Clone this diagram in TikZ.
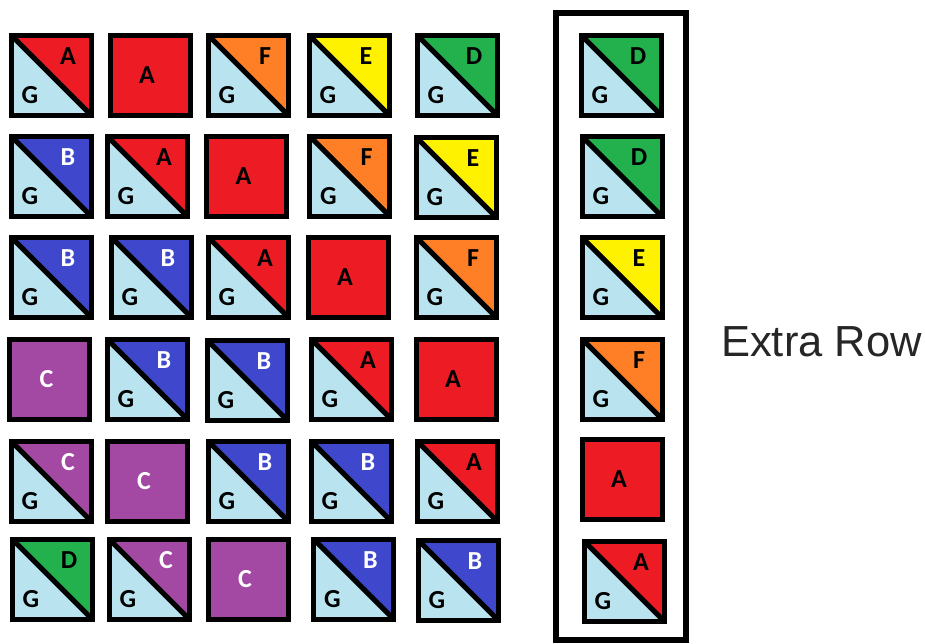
\documentclass[tikz,border=0pt]{standalone}
\usepackage{fontspec}
\newfontfamily\tilefont{Carlito}
\newfontfamily\notefont{Liberation Sans}
\usetikzlibrary{positioning}
\definecolor{redA}{HTML}{ED1C24}
\definecolor{blueB}{HTML}{3F48CC}
\definecolor{purpleC}{HTML}{A349A4}
\definecolor{greenD}{HTML}{22B14C}
\definecolor{yellowE}{HTML}{FFF200}
\definecolor{orangeF}{HTML}{FF7F27}
\definecolor{lightG}{HTML}{B9E4EF}
\definecolor{notegray}{HTML}{262626}
\tikzset{
  tile/.style={draw=black, line width=5pt, minimum size=80pt, inner sep=0pt, outer sep=0pt, fill=#1},
  half/.style={tile=lightG, path picture={
      \fill[#1] (path picture bounding box.north west) -- (path picture bounding box.north east)
        -- (path picture bounding box.south east) -- cycle;
      \draw[line width=5pt] (path picture bounding box.north west) -- (path picture bounding box.south east);}},
  letter/.style={font=\tilefont\bfseries\fontsize{26}{30}\selectfont, inner sep=0pt}
}

\begin{document}
\begin{tikzpicture}[x=1pt, y=-1pt]
\useasboundingbox (0,0) rectangle (925,643);
% split tiles: name/x/y/colour/letter/letter colour
\foreach \n/\x/\y/\c/\l/\t in {r1c1/51/75/redA/A/black, r1c3/248/75/orangeF/F/black,
  r1c4/349/75/yellowE/E/black, r1c5/457/75/greenD/D/black,
  r2c1/51/176/blueB/B/white, r2c2/147/176/redA/A/black, r2c4/349.5/176/orangeF/F/black,
  r2c5/456/177/yellowE/E/black,
  r3c1/51/277/blueB/B/white, r3c2/151/277/blueB/B/white, r3c3/248/277/redA/A/black,
  r3c5/456/277/orangeF/F/black,
  r4c2/147/379/blueB/B/white, r4c3/247/380/blueB/B/white, r4c4/351/379/redA/A/black,
  r5c1/51/481/purpleC/C/white, r5c3/248/481/blueB/B/white, r5c4/351/481/blueB/B/white,
  r5c5/457/481/redA/A/black,
  r6c1/52/579/greenD/D/black, r6c2/149/579/purpleC/C/white, r6c4/353.5/579/blueB/B/white,
  r6c5/458/580/blueB/B/white,
  e1/621/75/greenD/D/black, e2/622/176.5/greenD/D/black, e3/622/277.5/yellowE/E/black,
  e4/622/379/orangeF/F/black, e6/624/581/redA/A/black} {
  \node[half=\c] (\n) at (\x,\y) {};
  \node[letter, text=\t, xshift=17pt, yshift=19pt] (\n-l) at (\n.center) {\l};
  \node[letter, xshift=-21pt, yshift=-20pt] (\n-g) at (\n.center) {G};
}
% plain tiles
\foreach \n/\x/\y/\c/\l/\t in {r1c2/150/75/redA/A/black, r2c3/246.5/176.5/redA/A/black,
  r3c4/348/277/redA/A/black, r4c1/49.5/379/purpleC/C/white, r4c5/456/379/redA/A/black,
  r5c2/147/481/purpleC/C/white, r6c3/248/579/purpleC/C/white, e5/622/479/redA/A/black} {
  \node[tile=\c] (\n) at (\x,\y) {};
  \node[letter, text=\t, xshift=-3pt] (\n-l) at (\n.center) {\l};
}
\node[draw=black, line width=6pt, minimum width=130pt, minimum height=627pt, inner sep=0pt] (extra box) at (621,326.5) {};
\node[font=\notefont\fontsize{43.5}{50}\selectfont, text=notegray, anchor=base west, inner sep=0pt] (extra) at (721,356) {Extra Row};
\end{tikzpicture}
\end{document}
